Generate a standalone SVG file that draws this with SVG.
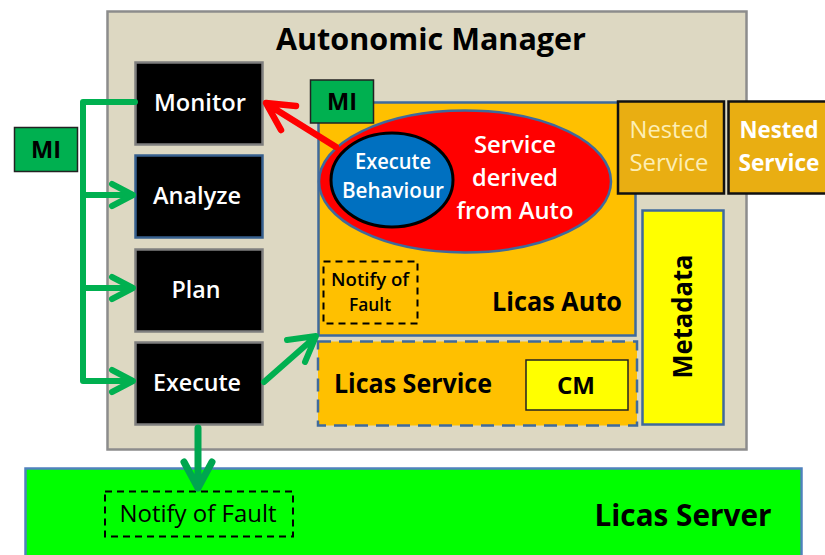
<svg xmlns="http://www.w3.org/2000/svg" width="825" height="555" viewBox="0 0 825 555">
<style>
text{font-family:"Open Sans","Noto Sans","Liberation Sans",sans-serif;text-anchor:middle;font-weight:700}
.n{font-weight:400}
.m{font-weight:600}
.w{fill:#fff}
.k{fill:#000}
.blk{fill:#000;stroke:#7f7f7f;stroke-width:2.5}
.mi{fill:#00b050;stroke:#222;stroke-width:1.5}
.g{fill:none;stroke:#00b050;stroke-width:6;stroke-linecap:round;stroke-linejoin:round}
.d{stroke:#00a650;stroke-width:7}
.r{fill:none;stroke:#f00;stroke-width:6.500;stroke-linecap:round;stroke-linejoin:round}
.nest{fill:#e9ae12;stroke:#111;stroke-width:2.5}
.dash{fill:none;stroke:#000;stroke-width:2;stroke-dasharray:7 5}
</style>
<g id="manager"><rect x="107.500" y="11.500" width="639" height="438" fill="#ddd8c2" stroke="#8c8c8c" stroke-width="2.500"/>
<text x="431" y="50" font-size="31" class="k" textLength="310" lengthAdjust="spacingAndGlyphs">Autonomic Manager</text></g>
<g id="monitor"><rect x="135.500" y="62.500" width="127" height="82" class="blk"/><text x="200" y="111" font-size="24" class="w m" textLength="92" lengthAdjust="spacingAndGlyphs">Monitor</text></g>
<g id="analyze"><rect x="135.500" y="155.500" width="127" height="82" class="blk" style="stroke:#37608f"/><text x="197" y="204" font-size="24" class="w m" textLength="88" lengthAdjust="spacingAndGlyphs">Analyze</text></g>
<g id="plan"><rect x="135.500" y="249.500" width="127" height="82" class="blk"/><text x="196" y="298" font-size="24" class="w m" textLength="49" lengthAdjust="spacingAndGlyphs">Plan</text></g>
<g id="execute"><rect x="135.500" y="342.500" width="127" height="82" class="blk"/><text x="197" y="391" font-size="24" class="w m" textLength="88" lengthAdjust="spacingAndGlyphs">Execute</text></g>
<g id="mi-left"><rect x="14.500" y="127.500" width="63" height="44" class="mi"/><text x="46" y="158" font-size="23" class="k" textLength="30" lengthAdjust="spacingAndGlyphs">MI</text></g>
<g id="licas-auto"><rect x="318.500" y="102.500" width="317" height="233" fill="#ffc000" stroke="#3f6a9c" stroke-width="2.500"/>
<text x="557" y="311" font-size="27" class="k" textLength="130" lengthAdjust="spacingAndGlyphs">Licas Auto</text></g>
<g id="mi-top"><rect x="310.500" y="80" width="63" height="43" class="mi"/><text x="342" y="110" font-size="23" class="k" textLength="30" lengthAdjust="spacingAndGlyphs">MI</text></g>
<g id="service-derived"><ellipse cx="465" cy="181.500" rx="146" ry="71" fill="#f00" stroke="#3f6a9c" stroke-width="2.500"/>
<text x="515" y="153" font-size="24" class="w m" textLength="82" lengthAdjust="spacingAndGlyphs">Service</text>
<text x="515" y="186" font-size="24" class="w m" textLength="86" lengthAdjust="spacingAndGlyphs">derived</text>
<text x="515" y="219" font-size="24" class="w m" textLength="117" lengthAdjust="spacingAndGlyphs">from Auto</text></g>
<g id="nested-1"><rect x="618" y="101.500" width="106" height="92" class="nest"/>
<text x="669" y="138" font-size="24" fill="#fdeeb5" class="n" textLength="79" lengthAdjust="spacingAndGlyphs">Nested</text>
<text x="669" y="171" font-size="24" fill="#fdeeb5" class="n" textLength="79" lengthAdjust="spacingAndGlyphs">Service</text></g>
<g id="nested-2"><rect x="728.500" y="101.500" width="100" height="92" class="nest"/>
<text x="779" y="138" font-size="24" class="w" textLength="79" lengthAdjust="spacingAndGlyphs">Nested</text>
<text x="779" y="171" font-size="24" class="w" textLength="81" lengthAdjust="spacingAndGlyphs">Service</text></g>
<g id="metadata"><rect x="642.500" y="210.500" width="81" height="214" fill="#ff0" stroke="#3f6a9c" stroke-width="2.500"/>
<text transform="translate(692 316.500) rotate(-90)" font-size="26" class="k" textLength="124" lengthAdjust="spacingAndGlyphs">Metadata</text></g>
<g id="notify-auto"><rect x="323.500" y="261.500" width="94" height="62" class="dash"/>
<text x="370" y="286" font-size="18" class="k m" textLength="78" lengthAdjust="spacingAndGlyphs">Notify of</text>
<text x="370" y="311" font-size="18" class="k m" textLength="42" lengthAdjust="spacingAndGlyphs">Fault</text></g>
<g id="licas-service"><rect x="318" y="341.500" width="319" height="84" fill="#ffc000" stroke="#3f6a9c" stroke-width="2.500" stroke-dasharray="13 8"/>
<text x="413" y="393" font-size="26" class="k" textLength="158" lengthAdjust="spacingAndGlyphs">Licas Service</text></g>
<g id="cm"><rect x="526" y="360" width="102" height="50" fill="#ff0" stroke="#222" stroke-width="1.500"/>
<text x="576" y="394" font-size="24" class="k" textLength="38" lengthAdjust="spacingAndGlyphs">CM</text></g>
<g id="licas-server"><rect x="25.500" y="468.500" width="776" height="100" fill="#0f0" stroke="#4f81bd" stroke-width="2.500"/>
<text x="683" y="526" font-size="31" class="k" textLength="177" lengthAdjust="spacingAndGlyphs">Licas Server</text></g>
<g id="notify-server"><rect x="105" y="491.500" width="188" height="45" class="dash"/>
<text x="198" y="522" font-size="23" class="k n" textLength="157" lengthAdjust="spacingAndGlyphs">Notify of Fault</text></g>
<g id="connectors">
<path class="g" d="M135 102H83V381H131M83 195H131M83 288H131"/>
<path class="g" d="M112 184L133 195L112 206M112 277L133 288L112 299M112 370L133 381L112 392"/>
<path class="r" d="M336 147L267 104M296 106L266 103L281 130"/>
<path class="g" d="M264 382L314 338M287 340L316 336L305 362"/>
<path class="g d" d="M198 428V488M184 462L198 488L212 462"/>
</g>
<g id="execute-behaviour"><ellipse cx="392" cy="180" rx="61" ry="47" fill="#0070c0" stroke="#000" stroke-width="3"/>
<text x="393" y="169" font-size="21" class="w m" textLength="76" lengthAdjust="spacingAndGlyphs">Execute</text>
<text x="393" y="198" font-size="21" class="w m" textLength="102" lengthAdjust="spacingAndGlyphs">Behaviour</text></g>
</svg>
